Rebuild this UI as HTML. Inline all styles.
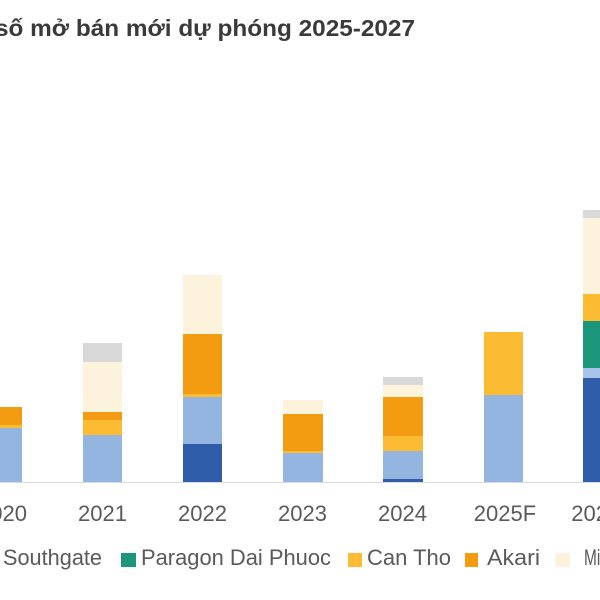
<!DOCTYPE html>
<html>
<head>
<meta charset="utf-8">
<style>
  html,body{margin:0;padding:0;background:#ffffff;}
  body{width:600px;height:600px;overflow:hidden;}
  svg{display:block;}
  text{font-family:"Liberation Sans","DejaVu Sans",sans-serif;}
</style>
</head>
<body>
<svg width="600" height="600" viewBox="0 0 600 600" xmlns="http://www.w3.org/2000/svg">
  <rect x="0" y="0" width="600" height="600" fill="#ffffff"/>
  <!-- Title -->
  <text x="-5" y="36" font-size="23" font-weight="bold" fill="#3a3a3a" textLength="420" lengthAdjust="spacingAndGlyphs">số mở bán mới dự phóng 2025-2027</text>

  <!-- Bars -->
  <g shape-rendering="crispEdges">
    <!-- 2020 -->
    <rect x="-17" y="428" width="39" height="54" fill="#95B5E1"/>
    <rect x="-17" y="425" width="39" height="3" fill="#FBBC33"/>
    <rect x="-17" y="407" width="39" height="18" fill="#F39C12"/>
    <!-- 2021 -->
    <rect x="83" y="435" width="39" height="47" fill="#95B5E1"/>
    <rect x="83" y="420" width="39" height="15" fill="#FBBC33"/>
    <rect x="83" y="412" width="39" height="8" fill="#F39C12"/>
    <rect x="83" y="362" width="39" height="50" fill="#FDF3DC"/>
    <rect x="83" y="343" width="39" height="19" fill="#D9D9D9"/>
    <!-- 2022 -->
    <rect x="183" y="444" width="39" height="38" fill="#2F5DA9"/>
    <rect x="183" y="397" width="39" height="47" fill="#95B5E1"/>
    <rect x="183" y="394" width="39" height="3" fill="#FBBC33"/>
    <rect x="183" y="334" width="39" height="60" fill="#F39C12"/>
    <rect x="183" y="275" width="39" height="59" fill="#FDF3DC"/>
    <!-- 2023 -->
    <rect x="283" y="453" width="40" height="29" fill="#95B5E1"/>
    <rect x="283" y="451" width="40" height="2" fill="#FBBC33"/>
    <rect x="283" y="414" width="40" height="37" fill="#F39C12"/>
    <rect x="283" y="400" width="40" height="14" fill="#FDF3DC"/>
    <!-- 2024 -->
    <rect x="383" y="479" width="40" height="3" fill="#2F5DA9"/>
    <rect x="383" y="451" width="40" height="28" fill="#95B5E1"/>
    <rect x="383" y="436" width="40" height="15" fill="#FBBC33"/>
    <rect x="383" y="397" width="40" height="39" fill="#F39C12"/>
    <rect x="383" y="385" width="40" height="12" fill="#FDF3DC"/>
    <rect x="383" y="377" width="40" height="8" fill="#D9D9D9"/>
    <!-- 2025F -->
    <rect x="484" y="395" width="39" height="87" fill="#95B5E1"/>
    <rect x="484" y="332" width="39" height="63" fill="#FBBC33"/>
    <!-- 2026F -->
    <rect x="583" y="378" width="39" height="104" fill="#2F5DA9"/>
    <rect x="583" y="368" width="39" height="10" fill="#A9C4EA"/>
    <rect x="583" y="321" width="39" height="47" fill="#1B967A"/>
    <rect x="583" y="294" width="39" height="27" fill="#FBBC33"/>
    <rect x="583" y="218" width="39" height="76" fill="#FDF3DC"/>
    <rect x="583" y="210" width="39" height="8" fill="#D9D9D9"/>
    <!-- axis -->
    <rect x="0" y="482" width="600" height="1" fill="#D9D9D9"/>
  </g>

  <!-- Tick labels -->
  <g font-size="22" fill="#5a5a5a" text-anchor="middle">
    <text x="2.5" y="521">2020</text>
    <text x="102.5" y="521">2021</text>
    <text x="202.5" y="521">2022</text>
    <text x="302.5" y="521">2023</text>
    <text x="402.5" y="521">2024</text>
    <text x="505" y="521">2025F</text>
    <text x="602.5" y="521">2026F</text>
  </g>

  <!-- Legend -->
  <g font-size="22" fill="#5a5a5a">
    <text x="3" y="565" textLength="99" lengthAdjust="spacingAndGlyphs">Southgate</text>
    <rect x="121" y="553" width="15" height="14" fill="#1B967A"/>
    <text x="141" y="565" textLength="190" lengthAdjust="spacingAndGlyphs">Paragon Dai Phuoc</text>
    <rect x="348" y="553" width="14" height="14" fill="#FBBC33"/>
    <text x="367" y="565" textLength="84" lengthAdjust="spacingAndGlyphs">Can Tho</text>
    <rect x="465" y="553" width="13" height="14" fill="#F39C12"/>
    <text x="487" y="565" textLength="53" lengthAdjust="spacingAndGlyphs">Akari</text>
    <rect x="555" y="553" width="15" height="14" fill="#FDF3DC"/>
    <text x="584" y="565" textLength="24" lengthAdjust="spacingAndGlyphs">Mix</text>
  </g>
</svg>
</body>
</html>
